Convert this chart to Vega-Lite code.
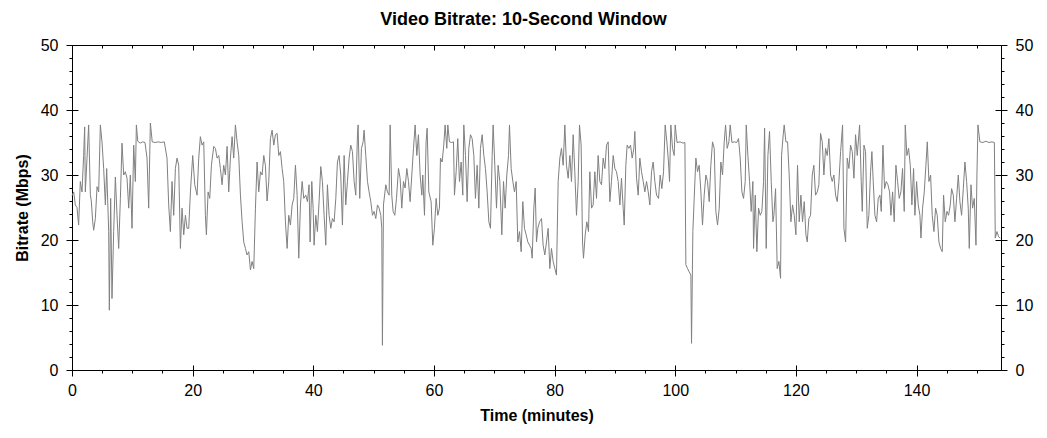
{
  "$schema": "https://vega.github.io/schema/vega-lite/v6.json",
  "width": 929,
  "height": 325,
  "autosize": {"type": "none"},
  "padding": {"left": 72, "top": 45, "right": 46, "bottom": 68},
  "background": "white",
  "title": {
    "text": "Video Bitrate: 10-Second Window",
    "font": "Liberation Sans",
    "fontSize": 18,
    "fontWeight": "bold",
    "color": "black",
    "baseline": "alphabetic",
    "offset": 19,
    "dy": 25,
    "dx": -13
  },
  "data": {
    "values": [
      {"t": 0, "v": 26.8}, {"t": 0.28, "v": 27.4}, {"t": 0.55, "v": 25.4}, {"t": 0.83, "v": 25}, {"t": 1.1, "v": 22.3},
      {"t": 1.38, "v": 29}, {"t": 1.66, "v": 27.4}, {"t": 1.93, "v": 33}, {"t": 2.1, "v": 37.4}, {"t": 2.21, "v": 27.4},
      {"t": 2.49, "v": 32.6}, {"t": 2.76, "v": 37.7}, {"t": 3.04, "v": 27}, {"t": 3.2, "v": 26}, {"t": 3.43, "v": 22.8},
      {"t": 3.59, "v": 21.5}, {"t": 3.87, "v": 23.3}, {"t": 4.15, "v": 28.2}, {"t": 4.42, "v": 27.4}, {"t": 4.7, "v": 37.7},
      {"t": 4.98, "v": 35}, {"t": 5.25, "v": 31}, {"t": 5.53, "v": 25.4}, {"t": 5.75, "v": 31}, {"t": 6.08, "v": 21.3},
      {"t": 6.19, "v": 9.2}, {"t": 6.41, "v": 26.4}, {"t": 6.63, "v": 11}, {"t": 6.91, "v": 21.3}, {"t": 7.19, "v": 29.7},
      {"t": 7.46, "v": 23.8}, {"t": 7.74, "v": 18.7}, {"t": 8.02, "v": 26.4}, {"t": 8.29, "v": 34.9}, {"t": 8.57, "v": 30},
      {"t": 8.84, "v": 30.5}, {"t": 9.12, "v": 29.5}, {"t": 9.4, "v": 24.9}, {"t": 9.67, "v": 30}, {"t": 9.95, "v": 21.8},
      {"t": 10.23, "v": 34.6}, {"t": 10.5, "v": 29}, {"t": 10.67, "v": 37.7}, {"t": 10.9, "v": 35.2}, {"t": 11.3, "v": 34.9},
      {"t": 11.7, "v": 35.1}, {"t": 12.1, "v": 35}, {"t": 12.44, "v": 32.6}, {"t": 12.71, "v": 24.9}, {"t": 12.99, "v": 38},
      {"t": 13.3, "v": 35.1}, {"t": 13.8, "v": 35}, {"t": 14.3, "v": 35.1}, {"t": 14.8, "v": 35}, {"t": 15.3, "v": 35.1},
      {"t": 15.75, "v": 32.6}, {"t": 16.03, "v": 25.4}, {"t": 16.31, "v": 21.3}, {"t": 16.58, "v": 29}, {"t": 16.86, "v": 23.8},
      {"t": 17.14, "v": 31}, {"t": 17.41, "v": 32.6}, {"t": 17.69, "v": 31.5}, {"t": 17.97, "v": 18.7}, {"t": 18.24, "v": 24.9},
      {"t": 18.52, "v": 20.8}, {"t": 18.8, "v": 23.8}, {"t": 19.07, "v": 21.8}, {"t": 19.35, "v": 21.8}, {"t": 19.63, "v": 27.4},
      {"t": 20.01, "v": 33}, {"t": 20.35, "v": 28.5}, {"t": 20.73, "v": 26.9}, {"t": 21.01, "v": 32.6}, {"t": 21.28, "v": 35.9},
      {"t": 21.56, "v": 34.6}, {"t": 21.84, "v": 35.1}, {"t": 22.11, "v": 23.8}, {"t": 22.28, "v": 20.8}, {"t": 22.56, "v": 27.4},
      {"t": 22.83, "v": 26.4}, {"t": 23.11, "v": 31.5}, {"t": 23.5, "v": 34.4}, {"t": 23.77, "v": 34.1}, {"t": 24.05, "v": 32.6},
      {"t": 24.33, "v": 33}, {"t": 24.6, "v": 31}, {"t": 24.88, "v": 28.5}, {"t": 25.15, "v": 31.5}, {"t": 25.43, "v": 30},
      {"t": 25.71, "v": 34.4}, {"t": 25.98, "v": 27.4}, {"t": 26.26, "v": 32.6}, {"t": 26.54, "v": 35.9}, {"t": 26.81, "v": 32.6},
      {"t": 27.09, "v": 37.7}, {"t": 27.37, "v": 35.1}, {"t": 27.64, "v": 33}, {"t": 27.92, "v": 26.9}, {"t": 28.2, "v": 22.8},
      {"t": 28.47, "v": 19.7}, {"t": 28.75, "v": 18.7}, {"t": 29.02, "v": 17.7}, {"t": 29.3, "v": 18.2}, {"t": 29.58, "v": 15.4},
      {"t": 29.85, "v": 16.7}, {"t": 30.13, "v": 15.6}, {"t": 30.41, "v": 24.9}, {"t": 30.68, "v": 32}, {"t": 30.96, "v": 27.4},
      {"t": 31.24, "v": 30.5}, {"t": 31.51, "v": 30}, {"t": 31.79, "v": 33}, {"t": 32.06, "v": 31.5}, {"t": 32.34, "v": 26},
      {"t": 32.62, "v": 29}, {"t": 32.89, "v": 35.6}, {"t": 33.17, "v": 36.9}, {"t": 33.45, "v": 34.6}, {"t": 33.72, "v": 36.2},
      {"t": 34, "v": 36.4}, {"t": 34.28, "v": 33}, {"t": 34.55, "v": 33.6}, {"t": 34.83, "v": 31}, {"t": 35.1, "v": 29},
      {"t": 35.38, "v": 22.8}, {"t": 35.66, "v": 18.7}, {"t": 35.93, "v": 23.8}, {"t": 36.21, "v": 22.3}, {"t": 36.49, "v": 25.4},
      {"t": 36.76, "v": 26.4}, {"t": 37.04, "v": 31.5}, {"t": 37.32, "v": 26.9}, {"t": 37.59, "v": 17.2}, {"t": 37.87, "v": 25.4},
      {"t": 38.15, "v": 29}, {"t": 38.42, "v": 26.4}, {"t": 38.75, "v": 26.9}, {"t": 39.03, "v": 25.9}, {"t": 39.3, "v": 28.5},
      {"t": 39.47, "v": 19.7}, {"t": 39.75, "v": 29}, {"t": 39.97, "v": 24.9}, {"t": 40.13, "v": 19.2}, {"t": 40.41, "v": 23.8},
      {"t": 40.68, "v": 21.3}, {"t": 40.96, "v": 25.9}, {"t": 41.24, "v": 31.3}, {"t": 41.51, "v": 29}, {"t": 41.79, "v": 23.8},
      {"t": 42.07, "v": 19.2}, {"t": 42.34, "v": 28.5}, {"t": 42.62, "v": 23.8}, {"t": 42.9, "v": 21.8}, {"t": 43.17, "v": 23.3},
      {"t": 43.45, "v": 22.8}, {"t": 43.73, "v": 26.4}, {"t": 44, "v": 32}, {"t": 44.28, "v": 33}, {"t": 44.55, "v": 30},
      {"t": 44.83, "v": 22.3}, {"t": 45.11, "v": 33}, {"t": 45.38, "v": 25.4}, {"t": 45.66, "v": 29}, {"t": 45.94, "v": 32.6},
      {"t": 46.21, "v": 34.6}, {"t": 46.49, "v": 33.6}, {"t": 46.77, "v": 29}, {"t": 47.04, "v": 26.9}, {"t": 47.32, "v": 36.2},
      {"t": 47.43, "v": 37.7}, {"t": 47.7, "v": 26.4}, {"t": 47.98, "v": 34.1}, {"t": 48.26, "v": 35.1}, {"t": 48.42, "v": 36.9},
      {"t": 48.7, "v": 33}, {"t": 48.98, "v": 29}, {"t": 49.25, "v": 27.4}, {"t": 49.53, "v": 25.9}, {"t": 49.81, "v": 23.8},
      {"t": 50.08, "v": 24.4}, {"t": 50.36, "v": 23.3}, {"t": 50.64, "v": 25.4}, {"t": 50.91, "v": 24.9}, {"t": 51.19, "v": 23.8},
      {"t": 51.35, "v": 21.8}, {"t": 51.46, "v": 3.8}, {"t": 51.63, "v": 25.4}, {"t": 52.02, "v": 28.5}, {"t": 52.29, "v": 27.4},
      {"t": 52.57, "v": 26.9}, {"t": 52.74, "v": 37.7}, {"t": 53.01, "v": 26.9}, {"t": 53.23, "v": 24.4}, {"t": 53.51, "v": 23.8},
      {"t": 53.79, "v": 26.4}, {"t": 54.12, "v": 31}, {"t": 54.39, "v": 29.5}, {"t": 54.67, "v": 24.9}, {"t": 54.95, "v": 29},
      {"t": 55.22, "v": 28}, {"t": 55.5, "v": 31}, {"t": 55.78, "v": 29}, {"t": 56.05, "v": 25.9}, {"t": 56.33, "v": 30},
      {"t": 56.61, "v": 34.1}, {"t": 56.88, "v": 37.7}, {"t": 57.16, "v": 33}, {"t": 57.43, "v": 36.2}, {"t": 57.71, "v": 30},
      {"t": 57.99, "v": 26.9}, {"t": 58.15, "v": 30}, {"t": 58.43, "v": 23.8}, {"t": 58.7, "v": 35.1}, {"t": 58.87, "v": 37.2},
      {"t": 59.15, "v": 27.4}, {"t": 59.53, "v": 25.9}, {"t": 59.81, "v": 19.2}, {"t": 60.08, "v": 21.8}, {"t": 60.36, "v": 26.4},
      {"t": 60.64, "v": 23.8}, {"t": 60.91, "v": 24.9}, {"t": 61.08, "v": 32.6}, {"t": 61.36, "v": 32}, {"t": 61.63, "v": 34.6},
      {"t": 61.85, "v": 37.7}, {"t": 62.13, "v": 34.1}, {"t": 62.3, "v": 37.7}, {"t": 62.57, "v": 35.1}, {"t": 62.9, "v": 35},
      {"t": 63.24, "v": 35.1}, {"t": 63.4, "v": 26.9}, {"t": 63.68, "v": 30.5}, {"t": 63.95, "v": 35.6}, {"t": 64.23, "v": 29},
      {"t": 64.51, "v": 32}, {"t": 64.78, "v": 26.9}, {"t": 64.95, "v": 37.7}, {"t": 65.23, "v": 33}, {"t": 65.5, "v": 25.9},
      {"t": 65.78, "v": 34.1}, {"t": 66.06, "v": 36.2}, {"t": 66.33, "v": 35.6}, {"t": 66.61, "v": 33}, {"t": 66.88, "v": 26.4},
      {"t": 67.16, "v": 31.5}, {"t": 67.44, "v": 24.9}, {"t": 67.71, "v": 34.1}, {"t": 67.99, "v": 36.2}, {"t": 68.27, "v": 33},
      {"t": 68.54, "v": 31}, {"t": 68.82, "v": 27.4}, {"t": 69.1, "v": 22.8}, {"t": 69.37, "v": 21.8}, {"t": 69.65, "v": 33},
      {"t": 69.81, "v": 37.7}, {"t": 70.09, "v": 31.5}, {"t": 70.37, "v": 24.9}, {"t": 70.64, "v": 31.5}, {"t": 70.92, "v": 29},
      {"t": 71.25, "v": 20.8}, {"t": 71.53, "v": 29}, {"t": 71.8, "v": 24.9}, {"t": 72.08, "v": 30}, {"t": 72.36, "v": 33},
      {"t": 72.52, "v": 37.7}, {"t": 72.8, "v": 31}, {"t": 73.08, "v": 29}, {"t": 73.35, "v": 27.4}, {"t": 73.63, "v": 29},
      {"t": 73.9, "v": 19.7}, {"t": 74.18, "v": 21.3}, {"t": 74.46, "v": 18.2}, {"t": 74.73, "v": 25.9}, {"t": 75.01, "v": 21.8},
      {"t": 75.29, "v": 20.8}, {"t": 75.56, "v": 19.7}, {"t": 75.84, "v": 19.2}, {"t": 76.12, "v": 18.7}, {"t": 76.28, "v": 17.2},
      {"t": 76.56, "v": 24.9}, {"t": 76.78, "v": 28}, {"t": 77, "v": 19.7}, {"t": 77.22, "v": 21.8}, {"t": 77.5, "v": 22.8},
      {"t": 77.83, "v": 23.3}, {"t": 78.1, "v": 19.2}, {"t": 78.38, "v": 17.7}, {"t": 78.66, "v": 19.7}, {"t": 78.93, "v": 21.8},
      {"t": 79.21, "v": 15.6}, {"t": 79.48, "v": 18.7}, {"t": 79.76, "v": 16.7}, {"t": 80.04, "v": 15.6}, {"t": 80.31, "v": 14.6},
      {"t": 80.59, "v": 29}, {"t": 80.87, "v": 32.6}, {"t": 81.14, "v": 34.1}, {"t": 81.42, "v": 31.5}, {"t": 81.7, "v": 37.7},
      {"t": 81.97, "v": 31.5}, {"t": 82.25, "v": 29.5}, {"t": 82.53, "v": 33}, {"t": 82.8, "v": 29}, {"t": 83.08, "v": 36.2},
      {"t": 83.35, "v": 30.5}, {"t": 83.63, "v": 23.8}, {"t": 83.91, "v": 29}, {"t": 84.13, "v": 37.7}, {"t": 84.4, "v": 34.6},
      {"t": 84.63, "v": 19.7}, {"t": 84.79, "v": 17.2}, {"t": 85.07, "v": 20.8}, {"t": 85.34, "v": 22.8}, {"t": 85.62, "v": 21.3},
      {"t": 85.84, "v": 30.5}, {"t": 86.12, "v": 24.9}, {"t": 86.39, "v": 25.4}, {"t": 86.67, "v": 30.5}, {"t": 86.95, "v": 26.4},
      {"t": 87.22, "v": 33}, {"t": 87.5, "v": 29}, {"t": 87.78, "v": 28.5}, {"t": 88.05, "v": 32.6}, {"t": 88.33, "v": 31},
      {"t": 88.61, "v": 34.6}, {"t": 88.88, "v": 35.1}, {"t": 89.16, "v": 25.9}, {"t": 89.43, "v": 29}, {"t": 89.71, "v": 33},
      {"t": 89.99, "v": 31}, {"t": 90.26, "v": 30.5}, {"t": 90.54, "v": 29}, {"t": 90.82, "v": 25.4}, {"t": 91.09, "v": 29.5},
      {"t": 91.37, "v": 24.9}, {"t": 91.54, "v": 22.3}, {"t": 91.81, "v": 31.5}, {"t": 92.03, "v": 34.6}, {"t": 92.31, "v": 34.1},
      {"t": 92.59, "v": 34.6}, {"t": 92.86, "v": 32.6}, {"t": 93.14, "v": 34.1}, {"t": 93.3, "v": 36.7}, {"t": 93.58, "v": 29.5},
      {"t": 93.86, "v": 26.9}, {"t": 94.13, "v": 32.6}, {"t": 94.41, "v": 30.5}, {"t": 94.69, "v": 29}, {"t": 94.96, "v": 27.4},
      {"t": 95.24, "v": 29}, {"t": 95.52, "v": 27.4}, {"t": 95.79, "v": 25.4}, {"t": 96.07, "v": 30.5}, {"t": 96.34, "v": 32},
      {"t": 96.62, "v": 29}, {"t": 96.9, "v": 26.9}, {"t": 97.23, "v": 26.4}, {"t": 97.5, "v": 30}, {"t": 97.78, "v": 27.9},
      {"t": 98.06, "v": 30.5}, {"t": 98.33, "v": 37.7}, {"t": 98.61, "v": 35.1}, {"t": 98.88, "v": 32}, {"t": 99.05, "v": 29},
      {"t": 99.27, "v": 37.7}, {"t": 99.55, "v": 34.1}, {"t": 99.82, "v": 33}, {"t": 99.99, "v": 37.7}, {"t": 100.3, "v": 35},
      {"t": 100.8, "v": 35.1}, {"t": 101.3, "v": 34.9}, {"t": 101.6, "v": 35}, {"t": 101.76, "v": 16.2}, {"t": 102.04, "v": 15.6},
      {"t": 102.31, "v": 15.1}, {"t": 102.59, "v": 14.6}, {"t": 102.7, "v": 4.1}, {"t": 102.92, "v": 21.3}, {"t": 103.14, "v": 26.4},
      {"t": 103.42, "v": 32.6}, {"t": 103.69, "v": 30.5}, {"t": 103.97, "v": 31.5}, {"t": 104.25, "v": 27.4}, {"t": 104.52, "v": 22.3},
      {"t": 104.8, "v": 26.9}, {"t": 105.08, "v": 30}, {"t": 105.35, "v": 29}, {"t": 105.63, "v": 25.9}, {"t": 105.9, "v": 31.5},
      {"t": 106.18, "v": 35.1}, {"t": 106.46, "v": 34.1}, {"t": 106.73, "v": 24.4}, {"t": 107.01, "v": 22.3}, {"t": 107.29, "v": 24.9},
      {"t": 107.56, "v": 32}, {"t": 107.84, "v": 30}, {"t": 108.12, "v": 35.1}, {"t": 108.34, "v": 37.7}, {"t": 108.61, "v": 34.1},
      {"t": 108.89, "v": 35.1}, {"t": 109.11, "v": 37.7}, {"t": 109.4, "v": 35}, {"t": 109.8, "v": 35.1}, {"t": 110.2, "v": 35},
      {"t": 110.49, "v": 35.6}, {"t": 110.77, "v": 32.6}, {"t": 111.05, "v": 27.4}, {"t": 111.32, "v": 26.4}, {"t": 111.6, "v": 29},
      {"t": 111.77, "v": 37.7}, {"t": 112.04, "v": 33}, {"t": 112.32, "v": 29}, {"t": 112.59, "v": 24.4}, {"t": 112.87, "v": 29},
      {"t": 112.98, "v": 18.7}, {"t": 113.26, "v": 26.9}, {"t": 113.53, "v": 18.2}, {"t": 113.81, "v": 24.9}, {"t": 114.09, "v": 23.8},
      {"t": 114.36, "v": 24.4}, {"t": 114.64, "v": 29}, {"t": 114.81, "v": 37.2}, {"t": 115.08, "v": 18.7}, {"t": 115.36, "v": 33},
      {"t": 115.63, "v": 36.7}, {"t": 115.91, "v": 29}, {"t": 116.19, "v": 22.8}, {"t": 116.35, "v": 23.8}, {"t": 116.63, "v": 27.9},
      {"t": 116.9, "v": 15.6}, {"t": 117.18, "v": 16.7}, {"t": 117.46, "v": 14.1}, {"t": 117.62, "v": 33}, {"t": 117.9, "v": 36.2},
      {"t": 118.06, "v": 37.7}, {"t": 118.34, "v": 35.1}, {"t": 118.62, "v": 35.1}, {"t": 118.89, "v": 30}, {"t": 119.17, "v": 22.8},
      {"t": 119.45, "v": 25.4}, {"t": 119.72, "v": 23.8}, {"t": 120, "v": 20.8}, {"t": 120.27, "v": 31.5}, {"t": 120.55, "v": 22.8},
      {"t": 120.83, "v": 26.9}, {"t": 121.1, "v": 22.8}, {"t": 121.38, "v": 25.9}, {"t": 121.66, "v": 20.8}, {"t": 121.88, "v": 19.7},
      {"t": 122.15, "v": 23.3}, {"t": 122.43, "v": 23.8}, {"t": 122.71, "v": 30}, {"t": 122.98, "v": 31.5}, {"t": 123.26, "v": 26.9},
      {"t": 123.54, "v": 27.4}, {"t": 123.81, "v": 28.5}, {"t": 124.09, "v": 36.4}, {"t": 124.37, "v": 35.1}, {"t": 124.64, "v": 30},
      {"t": 124.92, "v": 34.1}, {"t": 125.19, "v": 33}, {"t": 125.47, "v": 35.6}, {"t": 125.75, "v": 30}, {"t": 126.02, "v": 29},
      {"t": 126.3, "v": 30}, {"t": 126.58, "v": 26.9}, {"t": 126.85, "v": 25.9}, {"t": 127.13, "v": 29}, {"t": 127.41, "v": 33.6},
      {"t": 127.74, "v": 37.7}, {"t": 127.96, "v": 21.8}, {"t": 128.24, "v": 19.7}, {"t": 128.51, "v": 32.6}, {"t": 128.79, "v": 31},
      {"t": 129.06, "v": 34.6}, {"t": 129.34, "v": 33.6}, {"t": 129.62, "v": 29.5}, {"t": 129.89, "v": 36.2}, {"t": 130.17, "v": 33},
      {"t": 130.56, "v": 37.7}, {"t": 130.83, "v": 29}, {"t": 131, "v": 24.4}, {"t": 131.28, "v": 34.6}, {"t": 131.55, "v": 33.6},
      {"t": 131.83, "v": 21.8}, {"t": 132.1, "v": 23.8}, {"t": 132.38, "v": 30.5}, {"t": 132.6, "v": 33.6}, {"t": 132.82, "v": 29},
      {"t": 133.1, "v": 23.8}, {"t": 133.38, "v": 22.8}, {"t": 133.65, "v": 26.4}, {"t": 133.93, "v": 26.9}, {"t": 134.15, "v": 24.4},
      {"t": 134.43, "v": 34.6}, {"t": 134.7, "v": 27.9}, {"t": 134.98, "v": 29}, {"t": 135.26, "v": 28.5}, {"t": 135.53, "v": 27.4},
      {"t": 135.75, "v": 23.8}, {"t": 136.03, "v": 27.4}, {"t": 136.3, "v": 22.8}, {"t": 136.58, "v": 31.5}, {"t": 136.86, "v": 29},
      {"t": 137.13, "v": 26.4}, {"t": 137.41, "v": 27.4}, {"t": 137.68, "v": 31}, {"t": 137.96, "v": 24.4}, {"t": 138.13, "v": 37.7},
      {"t": 138.4, "v": 33}, {"t": 138.68, "v": 34.1}, {"t": 138.96, "v": 31.5}, {"t": 139.23, "v": 25.4}, {"t": 139.51, "v": 31},
      {"t": 139.73, "v": 23.8}, {"t": 140.01, "v": 29}, {"t": 140.28, "v": 25.4}, {"t": 140.56, "v": 23.8}, {"t": 140.73, "v": 20.3},
      {"t": 141, "v": 24.9}, {"t": 141.28, "v": 27.4}, {"t": 141.55, "v": 31.5}, {"t": 141.78, "v": 35.1}, {"t": 142.05, "v": 29},
      {"t": 142.33, "v": 30}, {"t": 142.6, "v": 23.8}, {"t": 142.88, "v": 21.3}, {"t": 143.16, "v": 24.9}, {"t": 143.43, "v": 23.8},
      {"t": 143.71, "v": 19.7}, {"t": 143.99, "v": 18.7}, {"t": 144.26, "v": 18.2}, {"t": 144.48, "v": 26.9}, {"t": 144.76, "v": 22.8},
      {"t": 145.04, "v": 24.4}, {"t": 145.31, "v": 23.8}, {"t": 145.59, "v": 25.4}, {"t": 145.81, "v": 27.9}, {"t": 146.09, "v": 26.9},
      {"t": 146.36, "v": 22.8}, {"t": 146.64, "v": 26.4}, {"t": 146.92, "v": 30}, {"t": 147.19, "v": 25.9}, {"t": 147.47, "v": 23.8},
      {"t": 147.75, "v": 27.9}, {"t": 148.02, "v": 32}, {"t": 148.3, "v": 29}, {"t": 148.57, "v": 24.9}, {"t": 148.74, "v": 18.7},
      {"t": 149.02, "v": 28.5}, {"t": 149.29, "v": 24.9}, {"t": 149.57, "v": 26.4}, {"t": 149.85, "v": 19.2}, {"t": 150.01, "v": 30},
      {"t": 150.18, "v": 37.7}, {"t": 150.5, "v": 35.1}, {"t": 151, "v": 35}, {"t": 151.5, "v": 35.2}, {"t": 152, "v": 35},
      {"t": 152.5, "v": 35.1}, {"t": 152.9, "v": 35}, {"t": 153.05, "v": 20.3}, {"t": 153.33, "v": 21.3}, {"t": 153.6, "v": 20.5},
      {"t": 153.88, "v": 20.3}
    ]
  },
  "layer": [
    {
      "mark": {"type": "line", "color": "#808080", "strokeWidth": 1},
      "encoding": {
        "x": {
          "field": "t",
          "type": "quantitative",
          "scale": {"domain": [0, 154], "nice": false, "zero": false},
          "axis": {
            "orient": "bottom",
            "values": [0, 20, 40, 60, 80, 100, 120, 140],
            "tickSize": 6,
            "labelPadding": 6,
            "title": "Time (minutes)",
            "titlePadding": 9
          }
        },
        "y": {
          "field": "v",
          "type": "quantitative",
          "scale": {"domain": [0, 50], "nice": false},
          "axis": {
            "orient": "left",
            "values": [0, 10, 20, 30, 40, 50],
            "tickSize": 6,
            "labelPadding": 8,
            "title": "Bitrate (Mbps)",
            "titlePadding": 10
          }
        }
      }
    },
    {
      "mark": {"type": "point", "opacity": 0},
      "encoding": {
        "x": {
          "field": "t",
          "type": "quantitative",
          "axis": {"orient": "bottom", "values": [0, 20, 40, 60, 80, 100, 120, 140], "tickSize": -5, "labels": false, "domain": false, "title": null}
        },
        "y": {
          "field": "v",
          "type": "quantitative",
          "axis": {"orient": "right", "values": [0, 10, 20, 30, 40, 50], "tickSize": 6, "labelPadding": 8, "title": null}
        }
      }
    },
    {
      "mark": {"type": "point", "opacity": 0},
      "encoding": {
        "x": {
          "field": "t",
          "type": "quantitative",
          "axis": {"orient": "bottom", "values": [5, 10, 15, 25, 30, 35, 45, 50, 55, 65, 70, 75, 85, 90, 95, 105, 110, 115, 125, 130, 135, 145, 150], "tickSize": 3, "labels": false, "domain": false, "title": null}
        },
        "y": {
          "field": "v",
          "type": "quantitative",
          "axis": {"orient": "left", "values": [0, 10, 20, 30, 40, 50], "tickSize": -6, "labels": false, "domain": false, "title": null}
        }
      }
    },
    {
      "mark": {"type": "point", "opacity": 0},
      "encoding": {
        "x": {
          "field": "t",
          "type": "quantitative",
          "axis": {"orient": "top", "values": [0, 20, 40, 60, 80, 100, 120, 140], "tickSize": -5, "labels": false, "title": null}
        },
        "y": {
          "field": "v",
          "type": "quantitative",
          "axis": {"orient": "right", "values": [0, 10, 20, 30, 40, 50], "tickSize": -6, "labels": false, "domain": false, "title": null}
        }
      }
    },
    {
      "mark": {"type": "point", "opacity": 0},
      "encoding": {
        "x": {
          "field": "t",
          "type": "quantitative",
          "axis": {"orient": "top", "values": [5, 10, 15, 25, 30, 35, 45, 50, 55, 65, 70, 75, 85, 90, 95, 105, 110, 115, 125, 130, 135, 145, 150], "tickSize": -3, "labels": false, "domain": false, "title": null}
        },
        "y": {
          "field": "v",
          "type": "quantitative",
          "axis": {"orient": "left", "values": [2, 4, 6, 8, 12, 14, 16, 18, 22, 24, 26, 28, 32, 34, 36, 38, 42, 44, 46, 48], "tickSize": 3, "labels": false, "domain": false, "title": null}
        }
      }
    },
    {
      "mark": {"type": "point", "opacity": 0},
      "encoding": {
        "x": {"field": "t", "type": "quantitative", "axis": null},
        "y": {
          "field": "v",
          "type": "quantitative",
          "axis": {"orient": "right", "values": [2, 4, 6, 8, 12, 14, 16, 18, 22, 24, 26, 28, 32, 34, 36, 38, 42, 44, 46, 48], "tickSize": 3, "labels": false, "domain": false, "title": null}
        }
      }
    }
  ],
  "resolve": {"axis": {"x": "independent", "y": "independent"}},
  "config": {
    "view": {"stroke": null},
    "axis": {
      "grid": false,
      "labelFlush": false,
      "domainColor": "black",
      "tickColor": "black",
      "labelColor": "black",
      "labelFont": "Liberation Sans",
      "labelFontSize": 16,
      "titleFont": "Liberation Sans",
      "titleFontSize": 16,
      "titleFontWeight": "bold",
      "titleColor": "black"
    }
  }
}
